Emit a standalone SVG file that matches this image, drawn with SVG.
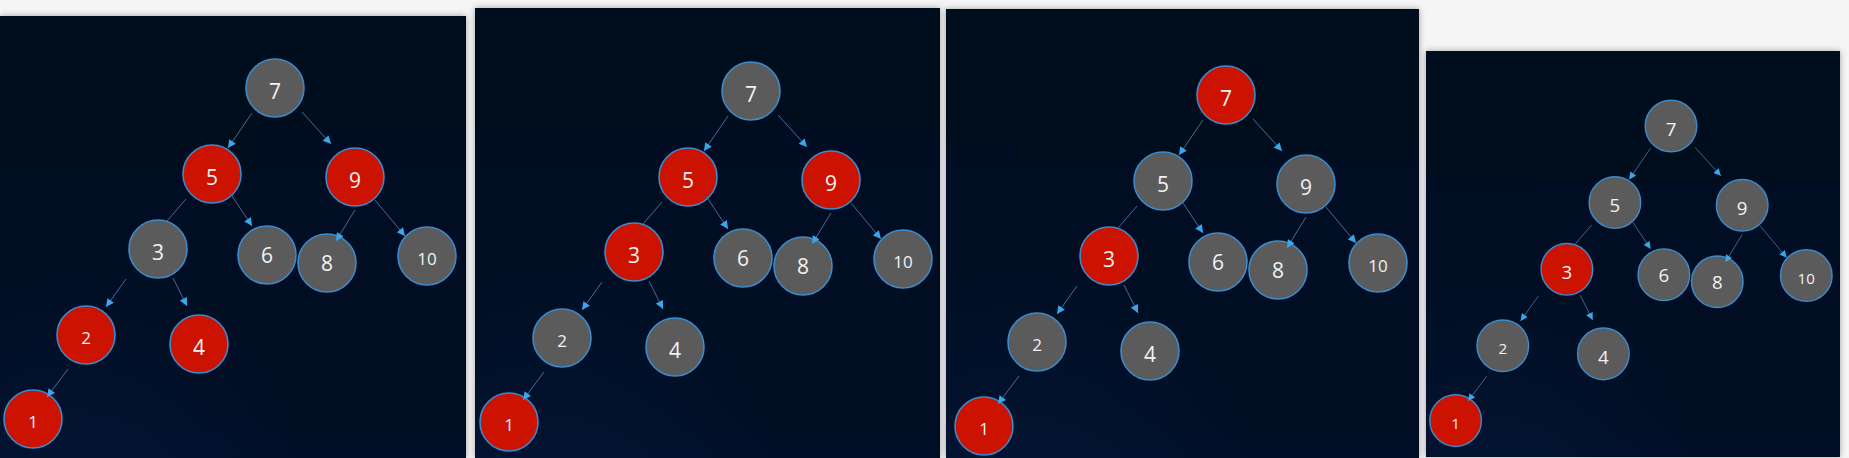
<svg xmlns="http://www.w3.org/2000/svg" width="1849" height="458" viewBox="0 0 1849 458">
<style>
.red{fill:#cc1200;stroke:#3a8ccc;stroke-width:1.6}
.gray{fill:#5b5b5b;stroke:#3a8ccc;stroke-width:1.6}
.lbl{font-family:"Open Sans","Noto Sans",sans-serif;fill:#f2f2f2;text-anchor:middle;font-size:21px}
.sm{font-size:17px}
.edge{stroke:#3f6f9c;stroke-width:1;fill:none;marker-end:url(#ah)}
.edge2{stroke:#3f6f9c;stroke-width:1;fill:none}
.panel{fill:url(#bg);filter:url(#sh)}
</style>
<defs>
<marker id="ah" viewBox="0 0 10 10" refX="10" refY="5" markerWidth="9" markerHeight="8" markerUnits="userSpaceOnUse" orient="auto">
<path d="M0,0 L10,5 L0,10 z" fill="#3aa6ec"/>
</marker>
<radialGradient id="glow" cx="0.15" cy="1.1" r="0.6">
<stop offset="0" stop-color="#0a2550" stop-opacity="0.35"/>
<stop offset="1" stop-color="#0a2550" stop-opacity="0"/>
</radialGradient>
<linearGradient id="bg" x1="0" y1="0" x2="0" y2="1">
<stop offset="0" stop-color="#010b1d"/>
<stop offset="1" stop-color="#020e25"/>
</linearGradient>
<filter id="sh" x="-5%" y="-5%" width="110%" height="110%">
<feDropShadow dx="0" dy="0" stdDeviation="3" flood-color="#000" flood-opacity="0.35"/>
</filter>
</defs>
<rect x="0" y="0" width="1849" height="458" fill="#f5f5f5"/>
<g id="panels">
<rect class="panel" x="0" y="16" width="466" height="442"/>
<rect x="0" y="16" width="466" height="442" fill="url(#glow)"/>
<rect class="panel" x="475" y="8" width="465" height="450"/>
<rect x="475" y="8" width="465" height="450" fill="url(#glow)"/>
<rect class="panel" x="946" y="9" width="473" height="449"/>
<rect x="946" y="9" width="473" height="449" fill="url(#glow)"/>
<rect class="panel" x="1426" y="51" width="414" height="406"/>
<rect x="1426" y="51" width="414" height="406" fill="url(#glow)"/>
</g>

<!-- Panel 1 -->
<g id="panel1">
<g id="p1-n7"><circle class="gray" cx="275" cy="88" r="29"/><text class="lbl" x="275" y="99">7</text></g>
<g id="p1-n5"><circle class="red" cx="212" cy="174" r="29"/><text class="lbl" x="212" y="185">5</text></g>
<g id="p1-n9"><circle class="red" cx="355" cy="177" r="29"/><text class="lbl" x="355" y="188">9</text></g>
<g id="p1-n3"><circle class="gray" cx="158" cy="249" r="29"/><text class="lbl" x="158" y="260">3</text></g>
<g id="p1-n6"><circle class="gray" cx="267" cy="255" r="29"/><text class="lbl" x="267" y="263">6</text></g>
<g id="p1-n8"><circle class="gray" cx="327" cy="263" r="29"/><text class="lbl" x="327" y="271">8</text></g>
<g id="p1-n10"><circle class="gray" cx="427" cy="256" r="29"/><text class="lbl sm" x="427" y="265">10</text></g>
<g id="p1-n2"><circle class="red" cx="86" cy="335" r="29"/><text class="lbl sm" x="86" y="344">2</text></g>
<g id="p1-n4"><circle class="red" cx="199" cy="344" r="29"/><text class="lbl" x="199" y="355">4</text></g>
<g id="p1-n1"><circle class="red" cx="33" cy="419" r="29"/><text class="lbl sm" x="33" y="428">1</text></g>
<g id="p1-edges">
<line class="edge" x1="252" y1="113" x2="228" y2="148"/>
<line class="edge" x1="302" y1="112" x2="331" y2="144"/>
<line class="edge2" x1="186" y1="199" x2="167" y2="221"/>
<line class="edge" x1="230" y1="193" x2="252" y2="226"/>
<line class="edge" x1="355" y1="210" x2="336" y2="241"/>
<line class="edge" x1="375" y1="200" x2="405" y2="236"/>
<line class="edge" x1="126" y1="279" x2="106" y2="307"/>
<line class="edge" x1="173" y1="278" x2="187" y2="306"/>
<line class="edge" x1="68" y1="369" x2="47" y2="397"/>
</g>
</g>

<!-- Panel 2 -->
<g id="panel2" transform="translate(476,3)">
<g id="p2-n7"><circle class="gray" cx="275" cy="88" r="29"/><text class="lbl" x="275" y="99">7</text></g>
<g id="p2-n5"><circle class="red" cx="212" cy="174" r="29"/><text class="lbl" x="212" y="185">5</text></g>
<g id="p2-n9"><circle class="red" cx="355" cy="177" r="29"/><text class="lbl" x="355" y="188">9</text></g>
<g id="p2-n3"><circle class="red" cx="158" cy="249" r="29"/><text class="lbl" x="158" y="260">3</text></g>
<g id="p2-n6"><circle class="gray" cx="267" cy="255" r="29"/><text class="lbl" x="267" y="263">6</text></g>
<g id="p2-n8"><circle class="gray" cx="327" cy="263" r="29"/><text class="lbl" x="327" y="271">8</text></g>
<g id="p2-n10"><circle class="gray" cx="427" cy="256" r="29"/><text class="lbl sm" x="427" y="265">10</text></g>
<g id="p2-n2"><circle class="gray" cx="86" cy="335" r="29"/><text class="lbl sm" x="86" y="344">2</text></g>
<g id="p2-n4"><circle class="gray" cx="199" cy="344" r="29"/><text class="lbl" x="199" y="355">4</text></g>
<g id="p2-n1"><circle class="red" cx="33" cy="419" r="29"/><text class="lbl sm" x="33" y="428">1</text></g>
<g id="p2-edges">
<line class="edge" x1="252" y1="113" x2="228" y2="148"/>
<line class="edge" x1="302" y1="112" x2="331" y2="144"/>
<line class="edge2" x1="186" y1="199" x2="167" y2="221"/>
<line class="edge" x1="230" y1="193" x2="252" y2="226"/>
<line class="edge" x1="355" y1="210" x2="336" y2="241"/>
<line class="edge" x1="375" y1="200" x2="405" y2="236"/>
<line class="edge" x1="126" y1="279" x2="106" y2="307"/>
<line class="edge" x1="173" y1="278" x2="187" y2="306"/>
<line class="edge" x1="68" y1="369" x2="47" y2="397"/>
</g>
</g>

<!-- Panel 3 -->
<g id="panel3" transform="translate(951,7)">
<g id="p3-n7"><circle class="red" cx="275" cy="88" r="29"/><text class="lbl" x="275" y="99">7</text></g>
<g id="p3-n5"><circle class="gray" cx="212" cy="174" r="29"/><text class="lbl" x="212" y="185">5</text></g>
<g id="p3-n9"><circle class="gray" cx="355" cy="177" r="29"/><text class="lbl" x="355" y="188">9</text></g>
<g id="p3-n3"><circle class="red" cx="158" cy="249" r="29"/><text class="lbl" x="158" y="260">3</text></g>
<g id="p3-n6"><circle class="gray" cx="267" cy="255" r="29"/><text class="lbl" x="267" y="263">6</text></g>
<g id="p3-n8"><circle class="gray" cx="327" cy="263" r="29"/><text class="lbl" x="327" y="271">8</text></g>
<g id="p3-n10"><circle class="gray" cx="427" cy="256" r="29"/><text class="lbl sm" x="427" y="265">10</text></g>
<g id="p3-n2"><circle class="gray" cx="86" cy="335" r="29"/><text class="lbl sm" x="86" y="344">2</text></g>
<g id="p3-n4"><circle class="gray" cx="199" cy="344" r="29"/><text class="lbl" x="199" y="355">4</text></g>
<g id="p3-n1"><circle class="red" cx="33" cy="419" r="29"/><text class="lbl sm" x="33" y="428">1</text></g>
<g id="p3-edges">
<line class="edge" x1="252" y1="113" x2="228" y2="148"/>
<line class="edge" x1="302" y1="112" x2="331" y2="144"/>
<line class="edge2" x1="186" y1="199" x2="167" y2="221"/>
<line class="edge" x1="230" y1="193" x2="252" y2="226"/>
<line class="edge" x1="355" y1="210" x2="336" y2="241"/>
<line class="edge" x1="375" y1="200" x2="405" y2="236"/>
<line class="edge" x1="126" y1="279" x2="106" y2="307"/>
<line class="edge" x1="173" y1="278" x2="187" y2="306"/>
<line class="edge" x1="68" y1="369" x2="47" y2="397"/>
</g>
</g>

<!-- Panel 4 -->
<g id="panel4" transform="translate(1426.25,47.7) scale(0.89)">
<g id="p4-n7"><circle class="gray" cx="275" cy="88" r="29"/><text class="lbl" x="275" y="99">7</text></g>
<g id="p4-n5"><circle class="gray" cx="212" cy="174" r="29"/><text class="lbl" x="212" y="185">5</text></g>
<g id="p4-n9"><circle class="gray" cx="355" cy="177" r="29"/><text class="lbl" x="355" y="188">9</text></g>
<g id="p4-n3"><circle class="red" cx="158" cy="249" r="29"/><text class="lbl" x="158" y="260">3</text></g>
<g id="p4-n6"><circle class="gray" cx="267" cy="255" r="29"/><text class="lbl" x="267" y="263">6</text></g>
<g id="p4-n8"><circle class="gray" cx="327" cy="263" r="29"/><text class="lbl" x="327" y="271">8</text></g>
<g id="p4-n10"><circle class="gray" cx="427" cy="256" r="29"/><text class="lbl sm" x="427" y="265">10</text></g>
<g id="p4-n2"><circle class="gray" cx="86" cy="335" r="29"/><text class="lbl sm" x="86" y="344">2</text></g>
<g id="p4-n4"><circle class="gray" cx="199" cy="344" r="29"/><text class="lbl" x="199" y="355">4</text></g>
<g id="p4-n1"><circle class="red" cx="33" cy="419" r="29"/><text class="lbl sm" x="33" y="428">1</text></g>
<g id="p4-edges">
<line class="edge" x1="252" y1="113" x2="228" y2="148"/>
<line class="edge" x1="302" y1="112" x2="331" y2="144"/>
<line class="edge2" x1="186" y1="199" x2="167" y2="221"/>
<line class="edge" x1="230" y1="193" x2="252" y2="226"/>
<line class="edge" x1="355" y1="210" x2="336" y2="241"/>
<line class="edge" x1="375" y1="200" x2="405" y2="236"/>
<line class="edge" x1="126" y1="279" x2="106" y2="307"/>
<line class="edge" x1="173" y1="278" x2="187" y2="306"/>
<line class="edge" x1="68" y1="369" x2="47" y2="397"/>
</g>
</g>
</svg>
